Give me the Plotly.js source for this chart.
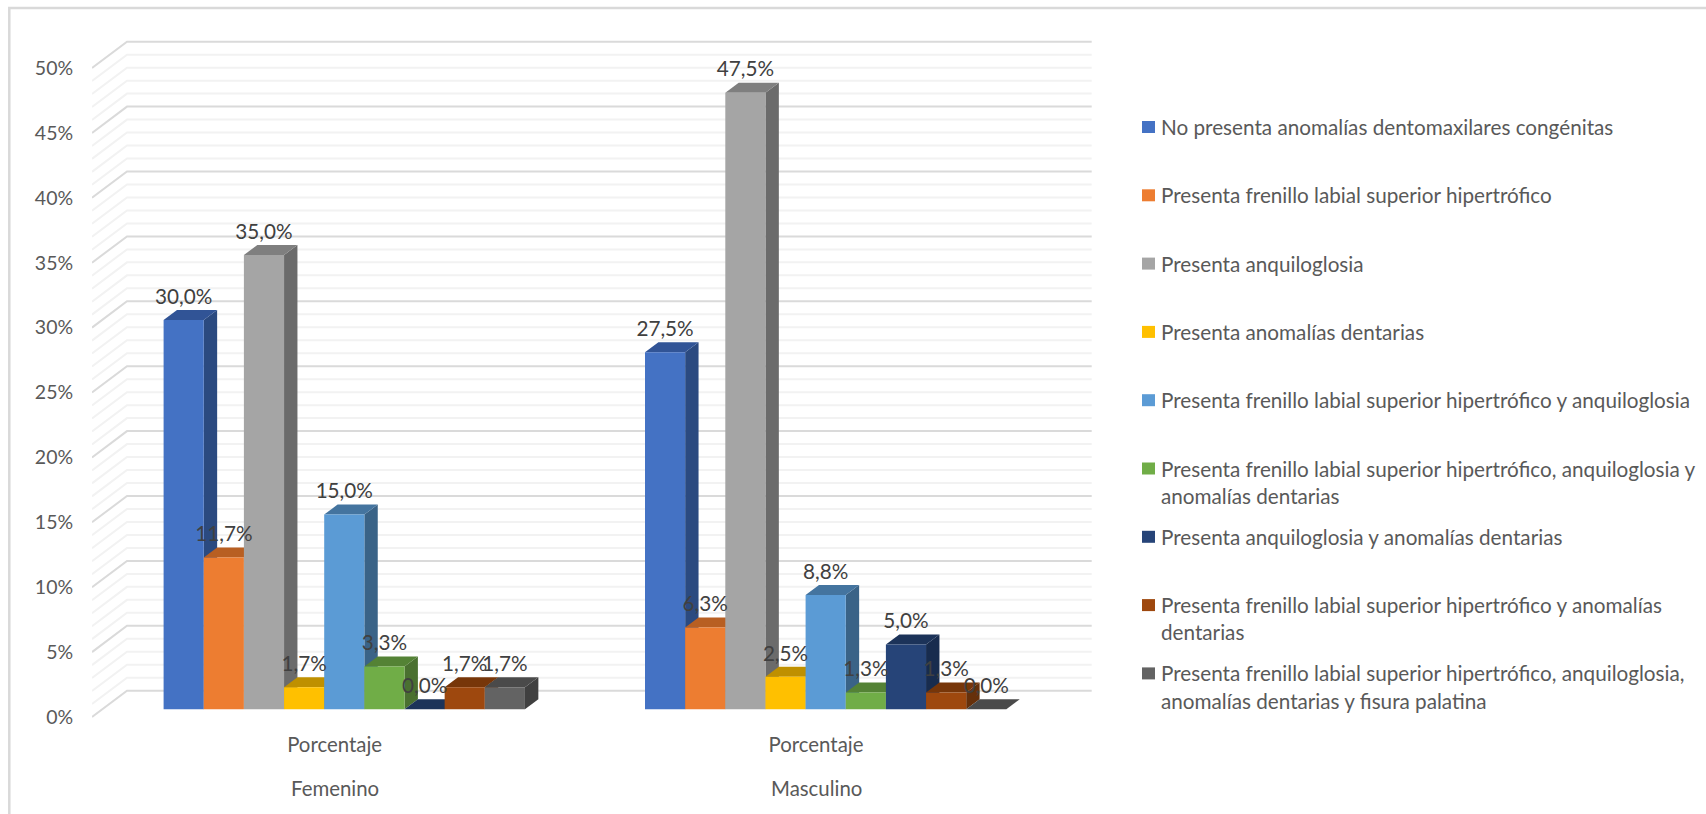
<!DOCTYPE html>
<html lang="es">
<head>
<meta charset="utf-8">
<title>Anomalías dentomaxilares congénitas por sexo</title>
<script src="https://cdn.plot.ly/plotly-3.0.1.min.js"></script>
<style>
  html, body { margin: 0; padding: 0; background: #fff; }
  #chart { width: 1706px; height: 814px; }
</style>
</head>
<body>
<div id="chart"></div>
<script>
// Percentages per finding, one list per sex group, in series order.
const groups = ["Femenino", "Masculino"];
const subLabel = "Porcentaje";
const valuesFemenino = [30.0, 11.7, 35.0, 1.7, 15.0, 3.3, 0.0, 1.7, 1.7];
const valuesMasculino = [27.5, 6.3, 47.5, 2.5, 8.8, 1.3, 5.0, 1.3, 0.0];
const seriesNames = [
  ["No presenta anomalías dentomaxilares congénitas"],
  ["Presenta frenillo labial superior hipertrófico"],
  ["Presenta anquiloglosia"],
  ["Presenta anomalías dentarias"],
  ["Presenta frenillo labial superior hipertrófico y anquiloglosia"],
  ["Presenta frenillo labial superior hipertrófico, anquiloglosia y", "anomalías dentarias"],
  ["Presenta anquiloglosia y anomalías dentarias"],
  ["Presenta frenillo labial superior hipertrófico y anomalías", "dentarias"],
  ["Presenta frenillo labial superior hipertrófico, anquiloglosia,", "anomalías dentarias y fisura palatina"]
];
const frontColors = ["#4472C4", "#ED7D31", "#A5A5A5", "#FFC000", "#5B9BD5", "#70AD47", "#264478", "#9E480E", "#636363"];
const sideColors = ["#2B4A80", "#9E5420", "#6B6B6B", "#A67D00", "#3A6387", "#4A7030", "#182C4E", "#66300A", "#404040"];
const topColors = ["#315496", "#B85F22", "#7F7F7F", "#BF9000", "#44749F", "#548235", "#1C3359", "#773609", "#4A4A4A"];

// Plot rectangle in page pixels, and the pixel scale of both axes.
const box = { l: 92, r: 1100, t: 30, b: 726 };
const pxPerGroup = 481.4, pxPerPercent = 12.98;
const firstGroupPx = 334.6, wallZeroPx = 717, barZeroPx = 709.3;

const xRange = [(box.l - firstGroupPx) / pxPerGroup, (box.r - firstGroupPx) / pxPerGroup];
const wallRange = [(wallZeroPx - box.b) / pxPerPercent, (wallZeroPx - box.t) / pxPerPercent];
const barRange = [(barZeroPx - box.b) / pxPerPercent, (barZeroPx - box.t) / pxPerPercent];

// Oblique projection: how far the back of the wall and of each bar shift.
const wallDx = 35 / pxPerGroup, wallDy = 26.3 / pxPerPercent;
const barDx = 13.4 / pxPerGroup, barDy = 10 / pxPerPercent;
const barWidth = 40.15 / pxPerGroup, firstBarOffset = -171 / pxPerGroup;
const labelLift = 21.5 / pxPerPercent;

const traces = [];

// Wall and floor gridlines, one percent apart with a heavier line every five.
function gridTrace(step, keep, color) {
  const xs = [], ys = [];
  const backLeft = xRange[0] + wallDx;
  const backRight = (1091.7 - firstGroupPx) / pxPerGroup;
  for (let v = 0; v <= 50; v += step) {
    if (!keep(v)) continue;
    xs.push(xRange[0], backLeft, backRight, null);
    ys.push(v, v + wallDy, v + wallDy, null);
  }
  return { type: "scatter", mode: "lines", x: xs, y: ys, xaxis: "x", yaxis: "y",
           line: { color: color, width: 2 }, hoverinfo: "skip", showlegend: false };
}
traces.push(gridTrace(1, v => v % 5 !== 0, "#F2F2F2"));
traces.push(gridTrace(5, () => true, "#DADADA"));

// Each series: side and top faces behind, then the front, painted left to right.
const groupValues = [valuesFemenino, valuesMasculino];
seriesNames.forEach((name, i) => {
  const left = firstBarOffset + i * barWidth;
  groupValues.forEach((vals, g) => {
    const v = vals[i];
    const x0 = g + left, x1 = x0 + barWidth;
    traces.push({
      type: "scatter", mode: "lines", fill: "toself", fillcolor: sideColors[i],
      line: { width: 0, color: sideColors[i] }, xaxis: "x", yaxis: "y2",
      x: [x1, x1 + barDx, x1 + barDx, x1, x1], y: [0, barDy, v + barDy, v, 0],
      zorder: i * 3 + 1, hoverinfo: "skip", showlegend: false
    });
    traces.push({
      type: "scatter", mode: "lines", fill: "toself", fillcolor: topColors[i],
      line: { width: 0, color: topColors[i] }, xaxis: "x", yaxis: "y2",
      x: [x0, x1, x1 + barDx, x0 + barDx, x0], y: [v, v, v + barDy, v + barDy, v],
      zorder: i * 3 + 2, hoverinfo: "skip", showlegend: false
    });
  });
  traces.push({
    type: "bar", name: name.join(" "), x: [0, 1],
    y: groupValues.map(vals => vals[i]),
    width: barWidth, offset: left, marker: { color: frontColors[i], line: { width: 0 } },
    xaxis: "x", yaxis: "y2", zorder: i * 3 + 3, showlegend: false
  });
});

// Value labels sit a fixed distance above each bar's front edge.
const formatValue = v => v.toFixed(1).replace(".", ",") + "%";
const labelX = [], labelY = [], labelText = [];
seriesNames.forEach((name, i) => {
  groupValues.forEach((vals, g) => {
    labelX.push(g + firstBarOffset + (i + 0.5) * barWidth);
    labelY.push(vals[i] + labelLift);
    labelText.push(formatValue(vals[i]));
  });
});
traces.push({
  type: "scatter", mode: "text", x: labelX, y: labelY, text: labelText,
  textposition: "middle center", cliponaxis: false,
  textfont: { family: "Lato, sans-serif", size: 20.7, color: "#404040" },
  xaxis: "x", yaxis: "y2", zorder: 100, hoverinfo: "skip", showlegend: false
});

// Paper coordinates for pixel positions outside the plot rectangle.
const paperX = px => (px - box.l) / (box.r - box.l);
const paperY = py => (box.b - py) / (box.b - box.t);

const annotations = [];
const shapes = [];

// Sex group captions under the repeated axis label.
groups.forEach((g, i) => annotations.push({
  text: g, xref: "x", x: i, yref: "paper", y: paperY(787.7), xanchor: "center", yanchor: "middle",
  showarrow: false, font: { family: "Lato, sans-serif", size: 20.4, color: "#595959" }
}));

// Key on the right: evenly spaced rows, wrapped names continue underneath.
const keyFirstRow = 127, keyRowStep = 68.3, keyLineStep = 27.3;
seriesNames.forEach((lines, i) => {
  const cy = keyFirstRow + i * keyRowStep;
  shapes.push({
    type: "rect", xref: "paper", yref: "paper", layer: "above",
    x0: paperX(1142), x1: paperX(1155), y0: paperY(cy - 6), y1: paperY(cy + 6),
    fillcolor: frontColors[i], line: { width: 0 }
  });
  lines.forEach((line, k) => annotations.push({
    text: line, xref: "paper", x: paperX(1159), yref: "paper", y: paperY(cy + k * keyLineStep),
    xanchor: "left", yanchor: "middle", showarrow: false, align: "left",
    font: { family: "Lato, sans-serif", size: 20.7, color: "#595959" }
  }));
});

// Chart frame, open towards the right and bottom page edges.
shapes.push({
  type: "rect", xref: "paper", yref: "paper", layer: "below",
  x0: paperX(9.3), x1: paperX(1720), y0: paperY(8), y1: paperY(830),
  fillcolor: "rgba(0,0,0,0)", line: { color: "#D9D9D9", width: 2.5 }
});

const layout = {
  width: 1706, height: 814,
  margin: { l: box.l, r: 1706 - box.r, t: box.t, b: 814 - box.b, pad: 0 },
  paper_bgcolor: "#fff", plot_bgcolor: "rgba(0,0,0,0)",
  barmode: "overlay", showlegend: false, hovermode: "closest",
  font: { family: "Lato, sans-serif", color: "#595959" },
  xaxis: {
    range: xRange, tickmode: "array", tickvals: [0, 1], ticktext: [subLabel, subLabel],
    ticks: "outside", ticklen: 1, tickcolor: "rgba(0,0,0,0)", tickwidth: 0,
    tickfont: { family: "Lato, sans-serif", size: 20.4, color: "#595959" },
    showgrid: false, zeroline: false, showline: false
  },
  yaxis: {
    range: wallRange, tickmode: "linear", tick0: 0, dtick: 5, ticksuffix: "%",
    ticks: "outside", ticklen: 14, tickcolor: "rgba(0,0,0,0)", tickwidth: 0,
    tickfont: { family: "Lato, sans-serif", size: 19.5, color: "#595959" },
    showgrid: false, zeroline: false, showline: false
  },
  yaxis2: { range: barRange, overlaying: "y", visible: false, showgrid: false, zeroline: false },
  annotations: annotations,
  shapes: shapes
};

Plotly.newPlot("chart", traces, layout, { displayModeBar: false, responsive: false });
</script>
</body>
</html>
